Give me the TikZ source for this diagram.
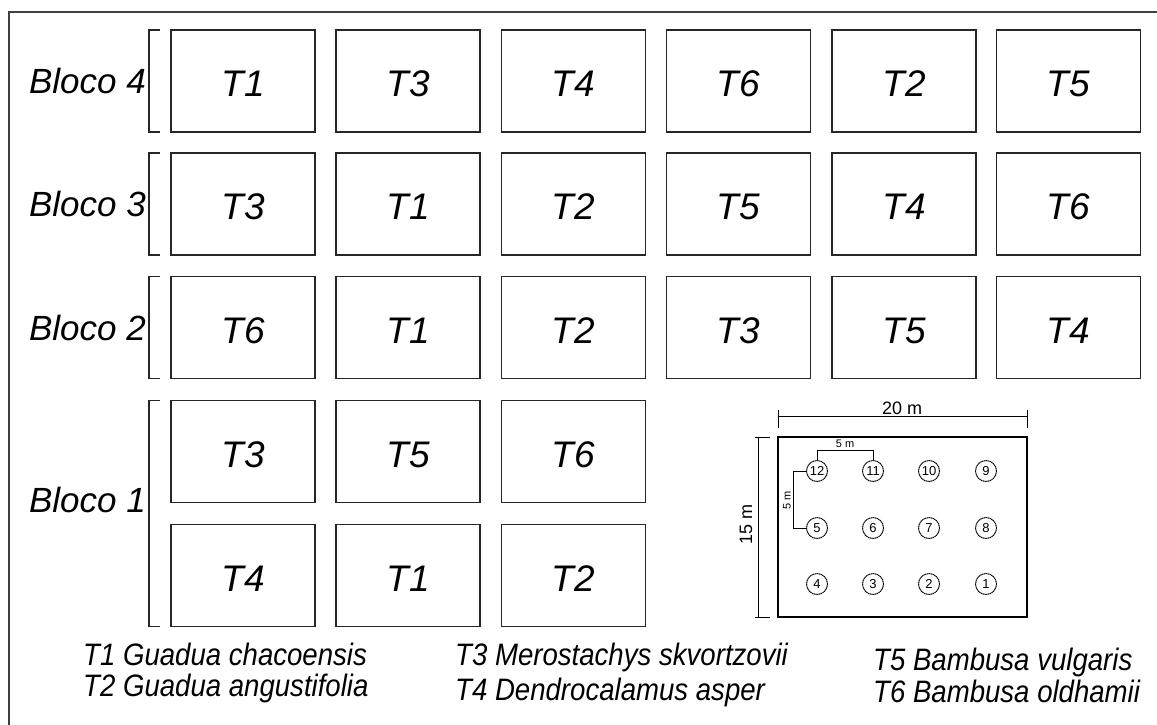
\documentclass[tikz,border=0pt]{standalone}
\usepackage{fontspec}
\setmainfont{Liberation Sans}
\newfontfamily\legfont[FakeStretch=0.89]{Liberation Sans}
\begin{document}
\begin{tikzpicture}[x=1pt,y=-1pt,
  plot/.style={draw=black!85,line width=1.3pt,minimum width=144pt,minimum height=102pt,inner sep=0pt,
    label={[lbl]center:#1}},
  lbl/.style={inner sep=0pt,yshift=-3pt,font=\fontsize{37}{40}\selectfont\itshape},
  bloco/.style={anchor=east,inner sep=0pt,font=\fontsize{35}{38}\selectfont\itshape},
  brk/.style={draw=black!85,line width=1.2pt},
  leg/.style={anchor=base west,inner sep=0pt,font=\legfont\itshape\fontsize{31}{34}\selectfont},
  tree/.style={circle,draw=black,dash pattern=on 1.4pt off 0.5pt,line width=1pt,minimum size=21pt,inner sep=0pt,
    font=\fontsize{13}{13}\selectfont},
  dim/.style={line width=1pt,draw=black},
  dimtxt/.style={inner sep=0pt}]
\useasboundingbox (0,0) rectangle (1157,724);
% outer frame
\draw[line width=1.5pt,draw=black!75] (9,730) -- (9,12) -- (1165,12);

% blocks 4,3,2
\foreach \r/\y/\a/\b/\c/\d/\e/\f in {4/81/T1/T3/T4/T6/T2/T5, 3/204/T3/T1/T2/T5/T4/T6, 2/327.5/T6/T1/T2/T3/T5/T4}{
  \node[plot=\a] (p\r-1) at (243,\y) {};
  \node[plot=\b] (p\r-2) at (408,\y) {};
  \node[plot=\c] (p\r-3) at (573.5,\y) {};
  \node[plot=\d] (p\r-4) at (738.5,\y) {};
  \node[plot=\e] (p\r-5) at (904,\y) {};
  \node[plot=\f] (p\r-6) at (1068.5,\y) {};
  \node[bloco] (bl\r) at (146,\y) {Bloco \r};
  \draw[brk] (160,\y-51) -- (149,\y-51) -- (149,\y+51) -- (160,\y+51);
}
% block 1
\node[plot=T3] (p1-1) at (243,451.5) {};
\node[plot=T5] (p1-2) at (408,451.5) {};
\node[plot=T6] (p1-3) at (573.5,451.5) {};
\node[plot=T4] (p1-4) at (243,575.5) {};
\node[plot=T1] (p1-5) at (408,575.5) {};
\node[plot=T2] (p1-6) at (573.5,575.5) {};
\node[bloco] (bl1) at (146,500) {Bloco 1};
\draw[brk] (160,400.5) -- (149,400.5) -- (149,626.5) -- (160,626.5);

% inset field plan
\node[draw=black,line width=1.3pt,minimum width=249pt,minimum height=180pt,inner sep=0pt] (field) at (902.5,527) {};
\foreach \n/\x/\y in {12/817/471,11/873/471,10/929/471,9/986/471,
                      5/817/528,6/873/528,7/929/528,8/986/528,
                      4/817/584,3/873/584,2/929/584,1/986/584}{
  \node[tree] (c\n) at (\x,\y) {\n};
}
% 20 m
\coordinate (d20l) at (778,416);
\coordinate (d20r) at (1027,416);
\draw[dim] (d20l) -- (d20r);
\draw[dim] (778,410) -- (778,428);
\draw[dim] (1027,410) -- (1027,428);
\node[dimtxt,font=\fontsize{18}{18}\selectfont,anchor=base] (t20) at (902,414) {20 m};
% 15 m
\coordinate (d15t) at (758,437);
\coordinate (d15b) at (758,617);
\draw[dim] (d15t) -- (d15b);
\draw[dim] (755,437) -- (770,437);
\draw[dim] (755,617) -- (770,617);
\node[dimtxt,font=\fontsize{18}{18}\selectfont,rotate=90] (t15) at (746,524) {15 m};
% 5 m horizontal
\coordinate (h5) at (0,450);
\draw[line width=1pt] (c12.north) -- (c12.north |- h5) -- (c11.north |- h5) -- (c11.north);
\node[dimtxt,font=\fontsize{11}{11}\selectfont] (t5h) at (845,444) {5 m};
% 5 m vertical
\coordinate (v5) at (793,0);
\draw[line width=1pt] (c12.west) -- (c12.west -| v5) -- (c5.west -| v5) -- (c5.west);
\node[dimtxt,font=\fontsize{11}{11}\selectfont,rotate=90] (t5v) at (787,500) {5 m};

% legend
\node[leg] (l1) at (83,665) {T1 Guadua chacoensis};
\node[leg] (l2) at (83,696) {T2 Guadua angustifolia};
\node[leg] (l3) at (455,665) {T3 Merostachys skvortzovii};
\node[leg] (l4) at (455,700) {T4 Dendrocalamus asper};
\node[leg] (l5) at (873,670) {T5 Bambusa vulgaris};
\node[leg] (l6) at (873,702) {T6 Bambusa oldhamii};
\end{tikzpicture}
\end{document}
